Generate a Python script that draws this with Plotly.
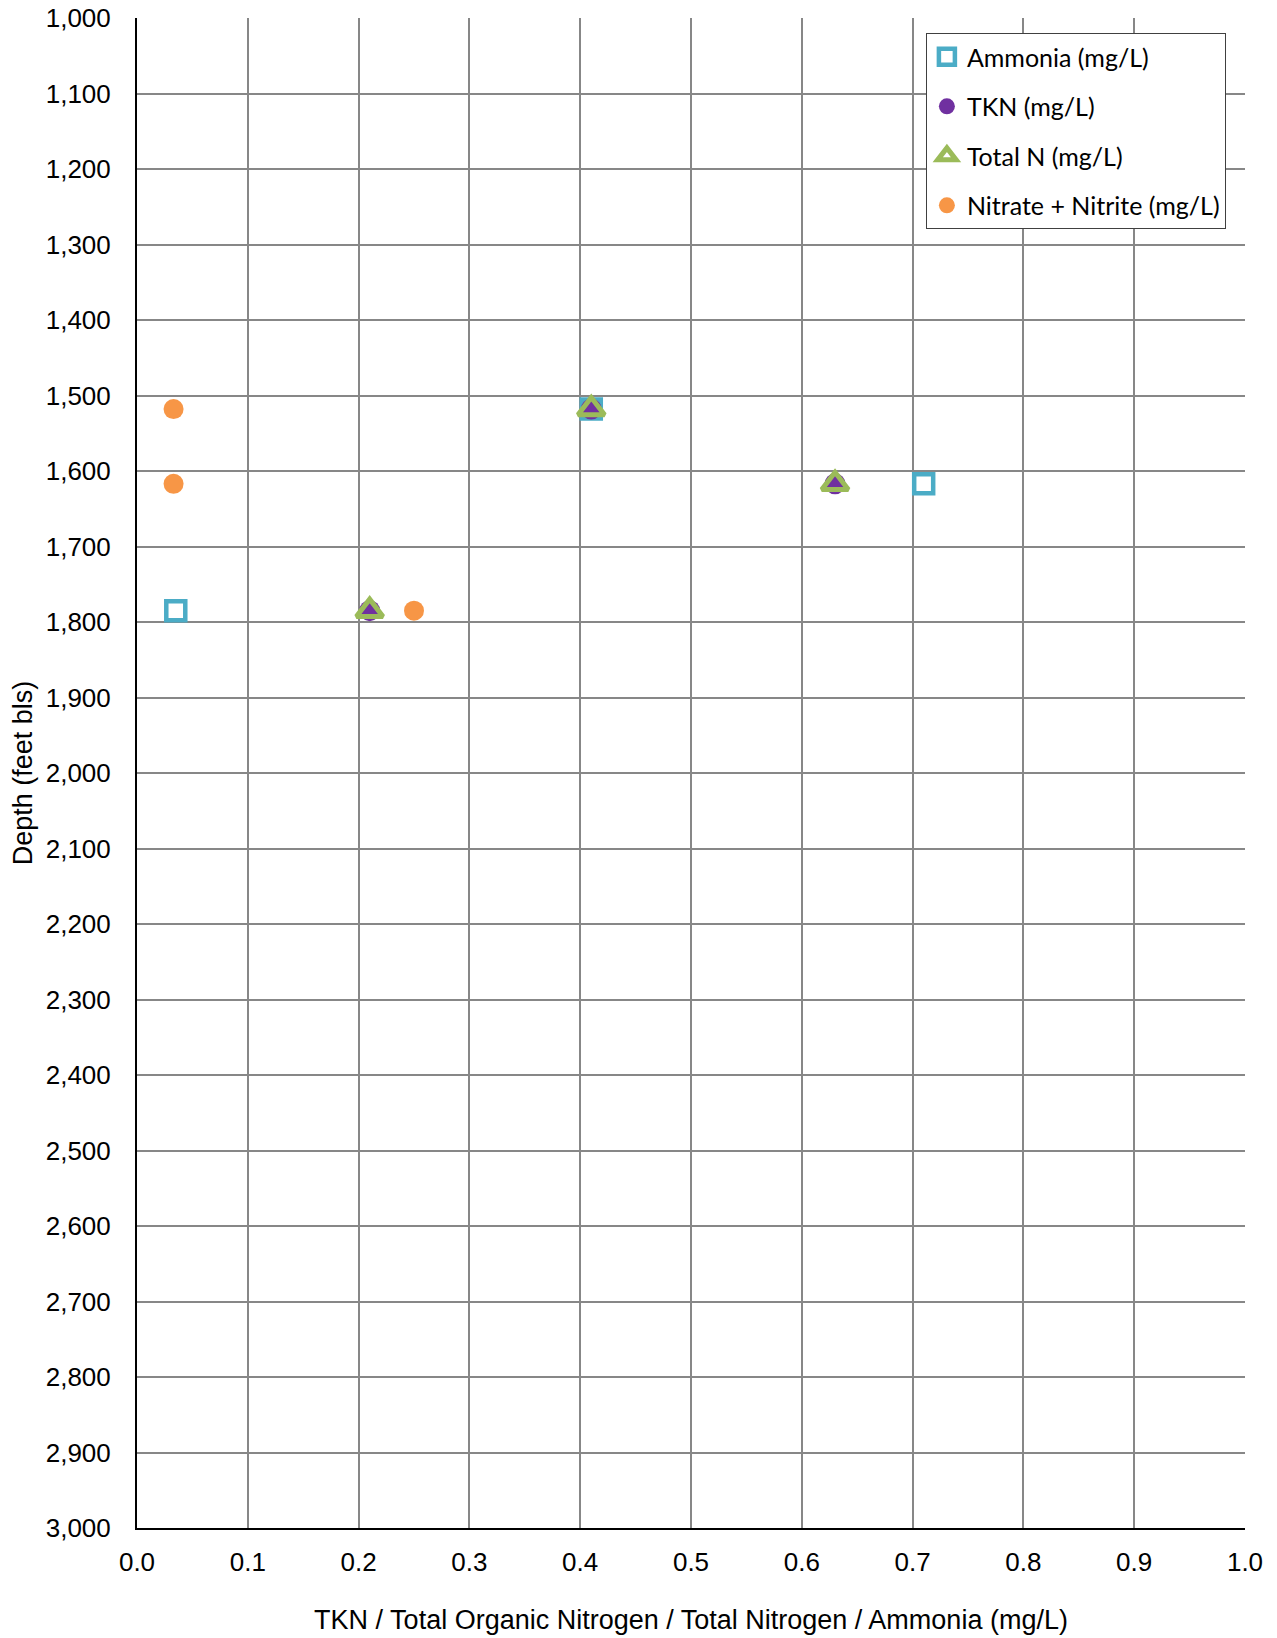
import plotly.graph_objects as go

# Data (mg/L vs depth, feet bls)
ammonia_x = [0.41, 0.71, 0.035]
ammonia_depth = [1518, 1617, 1785]

tkn_x = [0.41, 0.63, 0.21]
tkn_depth = [1518, 1617, 1785]

totaln_x = [0.41, 0.63, 0.21]
totaln_depth = [1518, 1617, 1785]

nitrate_x = [0.033, 0.033, 0.25]
nitrate_depth = [1518, 1617, 1785]

fig = go.Figure()
fig.add_trace(go.Scatter(
    x=ammonia_x, y=ammonia_depth, mode="markers", name="Ammonia (mg/L)",
    legendgroup="a",
    marker=dict(symbol="square-open", size=19, color="#4BACC6", line=dict(width=4.5, color="#4BACC6"))))
fig.add_trace(go.Scatter(
    x=tkn_x, y=tkn_depth, mode="markers", name="TKN (mg/L)",
    legendgroup="b",
    marker=dict(symbol="circle", size=21, color="#7030A0", line=dict(width=0))))
fig.add_trace(go.Scatter(
    x=totaln_x, y=totaln_depth, mode="markers", name="Total N (mg/L)",
    legendgroup="c",
    marker=dict(symbol="triangle-up-open", size=23, color="#9BBB59", line=dict(width=5, color="#9BBB59"))))
fig.add_trace(go.Scatter(
    x=nitrate_x, y=nitrate_depth, mode="markers", name="Nitrate + Nitrite (mg/L)",
    legendgroup="d",
    marker=dict(symbol="circle", size=20, color="#F79646", line=dict(width=0))))

tickfont = dict(family="Liberation Sans, Arial", size=26, color="#000000")
titlefont = dict(family="Liberation Sans, Arial", size=27, color="#000000")

fig.update_layout(
    width=1277, height=1638,
    margin=dict(l=129, r=40, t=10, b=118),
    plot_bgcolor="white", paper_bgcolor="white",
    showlegend=True,
    legend=dict(
        x=0.712, y=0.990, xanchor="left", yanchor="top",
        bgcolor="white", bordercolor="#404040", borderwidth=1,
        font=dict(family="Lato, Open Sans", size=25, color="#000000"),
        tracegroupgap=14, itemsizing="trace", itemwidth=30,
    ),
)
fig.update_xaxes(
    range=[0, 1], dtick=0.1, tick0=0, tickformat=".1f",
    showgrid=True, gridcolor="#878787", gridwidth=2,
    showline=True, linecolor="#000000", linewidth=2,
    zeroline=False, ticks="", ticklen=0, automargin=False,
    tickfont=tickfont, ticklabelstandoff=10, ticklabeloverflow="allow",
    title=dict(text="TKN / Total Organic Nitrogen / Total Nitrogen / Ammonia (mg/L)",
               font=titlefont, standoff=34),
)
fig.update_yaxes(
    range=[3000, 1000], dtick=100, tick0=1000, tickformat=",d",
    showgrid=True, gridcolor="#878787", gridwidth=2,
    showline=True, linecolor="#000000", linewidth=2,
    zeroline=False, ticks="", ticklen=0, automargin=False,
    tickfont=tickfont, ticklabelstandoff=19, ticklabeloverflow="allow",
    title=dict(text="Depth (feet bls)", font=titlefont, standoff=14),
)

fig.write_html("out.html")
